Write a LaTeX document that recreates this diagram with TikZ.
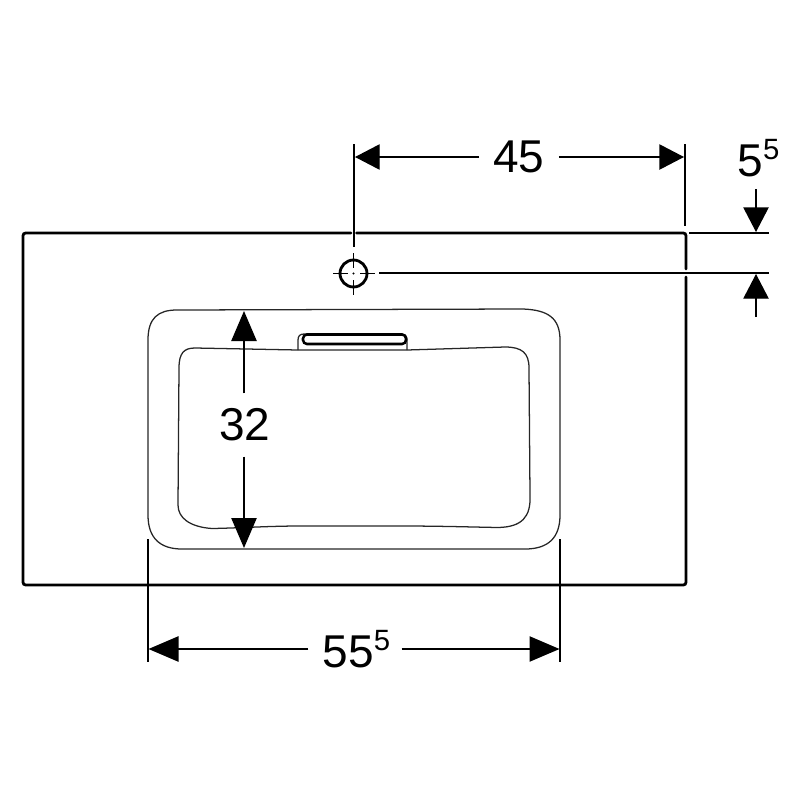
\documentclass[tikz,border=0pt]{standalone}
\usepackage{fontspec}
\setmainfont{Liberation Sans}
\usetikzlibrary{arrows.meta}
\newcommand{\dimsup}[1]{\raisebox{0.7ex}{\fontsize{22}{22}\selectfont #1}}
\tikzset{
  plateline/.style = {line width = 2.1pt, rounded corners = 2pt, line cap = round},
  basinline/.style = {line width = 0.95pt, black!85},
  thinline/.style  = {line width = 1pt},
  dimarrow/.style  = {thinline, -{Triangle[length = 18.5pt, width = 19pt]}},
  longarrow/.style = {thinline, -{Triangle[length = 22.5pt, width = 19pt]}},
  dimtext/.style   = {inner sep = 0, font = \fontsize{34.5}{34.5}\selectfont}
}
\begin{document}
\begin{tikzpicture}[x = 0.75pt, y = -0.75pt]
        \useasboundingbox (0,0) rectangle (800,800);
        % hole
        \coordinate (hole)     at (353.5, 273.5);
        \coordinate (holel)    at (333, 273.5);
        \coordinate (holell)   at (348, 273.5);
        \coordinate (holer)    at (360, 273.5);
        \coordinate (holerr)   at (375, 273.5);
        \coordinate (holet)    at (353.5, 253);
        \coordinate (holett)   at (353.5, 268);
        \coordinate (holeb)    at (353.5, 280);
        \coordinate (holebb)   at (353.5, 295);
        % witness lines
        \coordinate (holeext1) at (354, 144);
        \coordinate (holeext2) at (354, 247);
        \coordinate (edgeext1) at (685, 144);
        \coordinate (edgeext2) at (685, 226);
        \coordinate (edgeext3) at (689, 233);
        \coordinate (edgeext4) at (769, 233);
        \coordinate (axisext1) at (379, 273);
        \coordinate (axisext2) at (769, 273);
        \coordinate (bowlext1) at (148, 539);
        \coordinate (bowlext2) at (148, 662);
        \coordinate (bowlext3) at (560, 539);
        \coordinate (bowlext4) at (560, 662);
        % arrow ends
        \coordinate (hl)  at (355, 157);
        \coordinate (hr)  at (684, 157);
        \coordinate (vt)  at (756, 232);
        \coordinate (vtt) at (756, 189);
        \coordinate (vb)  at (756, 274);
        \coordinate (vbb) at (756, 317);
        \coordinate (wl)  at (148.5, 649);
        \coordinate (wr)  at (559.5, 649);
        \coordinate (dt)  at (244, 311);
        \coordinate (db)  at (244, 548);
        % plate
        \draw[plateline] (356.5,233) -- (686,233) -- (686,269);
        \draw[plateline] (686,277) -- (686,585) -- (23,585) -- (23,233) -- (351,233);
        % bowl
        \draw[basinline] (177,310) -- (523,309) .. controls (548,310) and (560,318) .. (560,340)
          -- (560,515) .. controls (560,538) and (548,549) .. (525,549)
          -- (182,549) .. controls (160,549) and (148,538) .. (148,515)
          -- (148,340) .. controls (148,318) and (158,310) .. (177,310);
        \draw[basinline] (195,348) -- (298,350) -- (407,350) -- (505,347)
          .. controls (522,347) and (529,353) .. (529,368)
          -- (530,495) .. controls (531,517) and (522,527) .. (498,527.5)
          .. controls (470,527) and (440,526) .. (400,526)
          -- (300,526) .. controls (270,526) and (240,528) .. (212,528.5)
          .. controls (190,527) and (178,518) .. (178,505)
          -- (179,368) .. controls (179,353) and (184,348) .. (195,348);
        % overflow
        \draw[basinline] (298,350) -- (298,340) .. controls (298,336) and (300,334) .. (304,334)
          -- (401,334) .. controls (405,334) and (407,336) .. (407,340) -- (407,350);
        \draw[line width = 1.9pt, rounded corners = 3pt] (303,334.5) rectangle (406,344);
        % hole
        \draw[line width = 2.1pt] (hole) circle (13.5);
        \draw[thinline] (holel) -- (holell);
        \draw[thinline] (holer) -- (holerr);
        \draw[thinline] (holet) -- (holett);
        \draw[thinline] (holeb) -- (holebb);
        \fill (hole) circle (1.2);
        % witness lines
        \draw[thinline] (holeext1) -- (holeext2);
        \draw[thinline] (edgeext1) -- (edgeext2);
        \draw[thinline] (edgeext3) -- (edgeext4);
        \draw[thinline] (axisext1) -- (axisext2);
        \draw[thinline] (bowlext1) -- (bowlext2);
        \draw[thinline] (bowlext3) -- (bowlext4);
        % dimensions
        \node[dimtext] (dimhole) at (519, 157) {45};
        \node[dimtext] (dimedge) at (758.5, 158) {5\dimsup{5}};
        \node[dimtext] (dimdeep) at (245, 425) {32};
        \node[dimtext] (dimwide) at (356.5, 649) {55\dimsup{5}};
        \draw[dimarrow] (dimhole.west) ++(-14,0) -- (hl);
        \draw[dimarrow] (dimhole.east) ++(14,0) -- (hr);
        \draw[dimarrow] (vtt) -- (vt);
        \draw[dimarrow] (vbb) -- (vb);
        \draw[longarrow] (dimwide.west) ++(-14,0) -- (wl);
        \draw[longarrow] (dimwide.east) ++(11,0) -- (wr);
        \draw[longarrow] (dimdeep.north -| dt) ++(0,-15) -- (dt);
        \draw[longarrow] (dimdeep.south -| db) ++(0,15) -- (db);
\end{tikzpicture}
\end{document}
